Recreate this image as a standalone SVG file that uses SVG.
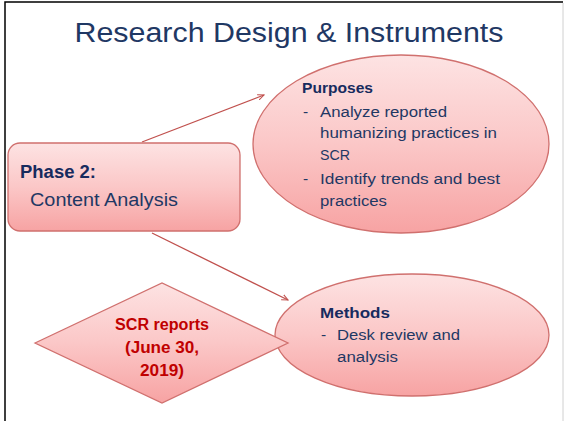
<svg xmlns="http://www.w3.org/2000/svg" width="564" height="421" viewBox="0 0 564 421">
  <defs>
    <linearGradient id="pinkFill" x1="0" y1="0" x2="0" y2="1">
      <stop offset="0" stop-color="#FDE3E3"/>
      <stop offset="0.5" stop-color="#FBC7C7"/>
      <stop offset="1" stop-color="#F7A3A3"/>
    </linearGradient>
    <marker id="arrowHead" viewBox="0 0 10 10" refX="9" refY="5" markerWidth="7" markerHeight="7" orient="auto" markerUnits="userSpaceOnUse">
      <path d="M0,1 L9,5 L0,9" fill="none" stroke="#C0504D" stroke-width="1.5"/>
    </marker>
  </defs>
  <style>
    .shape { fill: url(#pinkFill); stroke: #D0706E; stroke-width: 1.3; }
    .conn { stroke: #C0504D; stroke-width: 1.3; fill: none; marker-end: url(#arrowHead); }
    .txt { font-family: "Liberation Sans", Arial, sans-serif; fill: #1F3864; }
    .head { font-weight: bold; fill: #172B5E; }
    .red { font-family: "Liberation Sans", Arial, sans-serif; font-weight: bold; fill: #C00000; font-size: 16px; text-anchor: middle; }
  </style>

  <rect x="0" y="0" width="564" height="421" fill="#FFFFFF"/>
  <!-- frame -->
  <path d="M5,421 L5,2 L563,2" fill="none" stroke="#000000" stroke-width="1.5"/>
  <line x1="563" y1="3" x2="563" y2="421" stroke="#D0D0D0" stroke-width="1"/>

  <text class="txt" x="289" y="42" font-size="27" text-anchor="middle" textLength="429" lengthAdjust="spacingAndGlyphs" fill="#1F3D7A">Research Design &amp; Instruments</text>

  <g id="connectors">
    <line class="conn" x1="142" y1="142" x2="264" y2="95"/>
    <line class="conn" x1="152" y1="233" x2="288" y2="300"/>
  </g>

  <g id="phase2">
    <rect class="shape" x="8" y="143" width="232" height="88" rx="12" ry="12"/>
    <text class="txt head" x="20" y="178" font-size="18" textLength="76" lengthAdjust="spacingAndGlyphs">Phase 2:</text>
    <text class="txt" x="30" y="206" font-size="18" textLength="148" lengthAdjust="spacingAndGlyphs">Content Analysis</text>
  </g>

  <g id="purposes">
    <ellipse class="shape" cx="401" cy="144" rx="148" ry="89"/>
    <text class="txt head" x="302" y="93" font-size="15" textLength="71" lengthAdjust="spacingAndGlyphs">Purposes</text>
    <text class="txt" font-size="15.5">
      <tspan x="303" y="117">-</tspan><tspan x="320" y="117" textLength="127" lengthAdjust="spacingAndGlyphs">Analyze reported</tspan>
      <tspan x="320" y="138" textLength="177" lengthAdjust="spacingAndGlyphs">humanizing practices in</tspan>
      <tspan x="320" y="160" textLength="30" lengthAdjust="spacingAndGlyphs">SCR</tspan>
      <tspan x="303" y="184">-</tspan><tspan x="320" y="184" textLength="180" lengthAdjust="spacingAndGlyphs">Identify trends and best</tspan>
      <tspan x="320" y="206" textLength="67" lengthAdjust="spacingAndGlyphs">practices</tspan>
    </text>
  </g>

  <g id="methods">
    <ellipse class="shape" cx="412" cy="335" rx="137" ry="61"/>
    <text class="txt head" x="320" y="318" font-size="15" textLength="70" lengthAdjust="spacingAndGlyphs">Methods</text>
    <text class="txt" font-size="15.5">
      <tspan x="321" y="340">-</tspan><tspan x="337" y="340" textLength="123" lengthAdjust="spacingAndGlyphs">Desk review and</tspan>
      <tspan x="337" y="362" textLength="61" lengthAdjust="spacingAndGlyphs">analysis</tspan>
    </text>
  </g>

  <g id="scr-reports">
    <polygon class="shape" points="35,343 162,283 288,343 162,403"/>
    <text class="red" x="162" y="330" textLength="94" lengthAdjust="spacingAndGlyphs">SCR reports</text>
    <text class="red" x="162" y="353" textLength="74" lengthAdjust="spacingAndGlyphs">(June 30,</text>
    <text class="red" x="162" y="376" textLength="44" lengthAdjust="spacingAndGlyphs">2019)</text>
  </g>
</svg>
